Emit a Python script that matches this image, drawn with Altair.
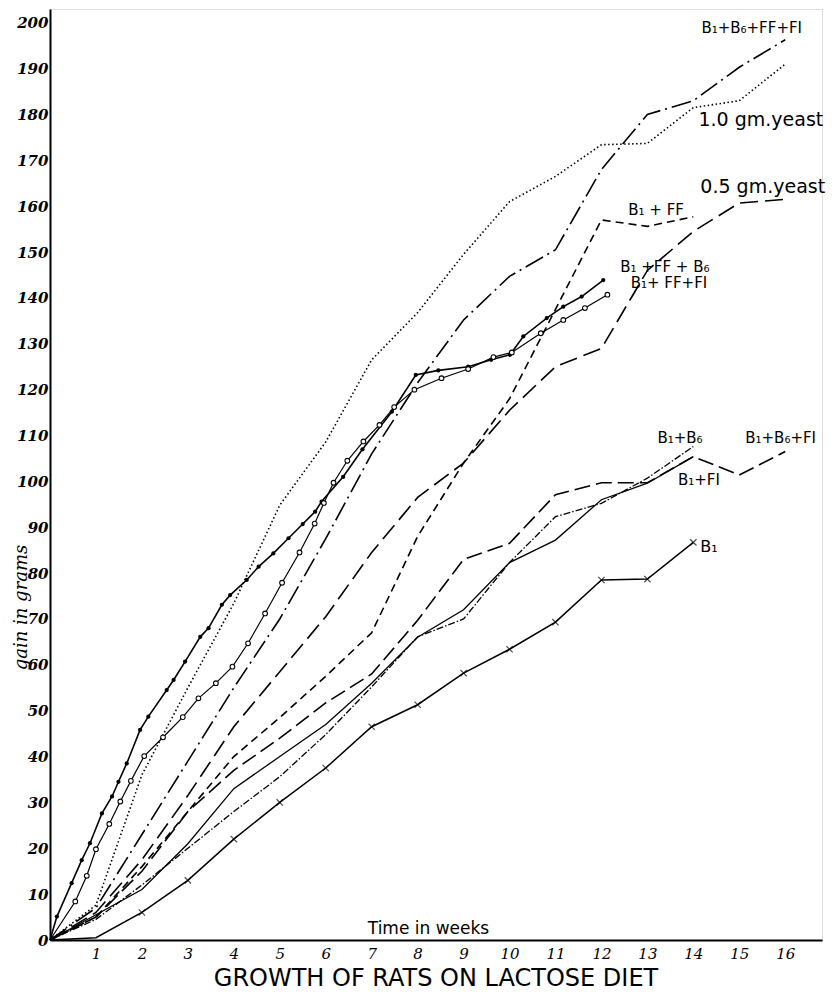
import altair as alt
import pandas as pd

# ---- data (weeks, gain in grams) ----
weeks14 = list(range(15))
weeks16 = list(range(17))

b1 = [0, 0.5, 6, 13, 22, 30, 37.5, 46.5, 51.3, 58.2, 63.4, 69.3, 78.5, 78.7, 86.7]
b1_fi = [0, 5.5, 11, 21, 33, 40, 47, 56, 66, 72, 82.3, 87.2, 96, 99.6, 105.4]
b1_b6 = [0, 4.5, 12, 20, 28, 35.6, 44.8, 55.2, 66.1, 70, 82.3, 92.3, 95.2, 100.7, 107.6]
b1_b6_fi = [0, 5, 15, 28, 37, 44, 51.7, 58, 69.7, 83, 86.5, 97.1, 99.7, 99.7, 105.4, 101.4, 106.5]
b1_ff = [0, 5, 16, 28, 40, 48.5, 57.5, 67, 88, 104, 118, 137.5, 157, 155.6, 157.7]
yeast05 = [0, 6, 17.5, 31.5, 46.5, 58.5, 70.5, 84.5, 96.5, 104, 115.5, 125, 129, 146, 154.5, 160.7, 161.5]
b1_b6_ff_fi = [0, 7, 23, 39, 55, 70, 87.5, 106, 121.5, 135.2, 144.7, 150.5, 168, 180, 183, 190.3, 196.3]
yeast10 = [0, 7.6, 36, 55, 73.4, 94.8, 108.6, 126.5, 136.8, 149.5, 161, 166.5, 173.4, 173.7, 181.5, 183, 191]

ff_b6_weeks = [0, 0.15, 0.47, 0.69, 0.87, 1.13, 1.35, 1.49, 1.67, 1.96, 2.14, 2.54, 2.69, 2.94,
               3.27, 3.45, 3.74, 3.92, 4.28, 4.54, 4.86, 5.19, 5.5, 5.77, 5.91, 6.38, 6.8, 7.44,
               7.96, 8.45, 9.1, 9.6, 10.01, 10.3, 10.81, 11.17, 11.57, 12.04]
ff_b6_vals = [0, 5.1, 12.4, 17.4, 21.1, 27.6, 31.3, 34.5, 38.5, 45.8, 48.7, 54.5, 56.7, 60.7,
              66.1, 68, 73.1, 75.2, 78.5, 81.4, 84.3, 87.6, 90.7, 93.4, 95.6, 101, 107, 115.2,
              123.2, 124.2, 125, 126.5, 127.6, 131.6, 135.6, 138.1, 140.3, 143.9]

ff_fi_weeks = [0, 0.55, 0.8, 1.0, 1.29, 1.53, 1.76, 2.05, 2.46, 2.89, 3.23, 3.61, 3.97, 4.31,
               4.68, 5.05, 5.43, 5.76, 5.96, 6.17, 6.47, 6.82, 7.17, 7.49, 7.93, 8.52, 9.1,
               9.65, 10.05, 10.68, 11.17, 11.64, 12.13]
ff_fi_vals = [0, 8.4, 14, 19.8, 25.3, 30.2, 34.7, 40.1, 44.2, 48.6, 52.7, 56, 59.6, 64.7,
              71.2, 77.9, 84.5, 90.8, 95.3, 99.7, 104.5, 108.7, 112.3, 116.2, 120, 122.5, 124.5,
              127.1, 128.1, 132.3, 135.2, 137.8, 140.7]

label_texts = ["B\u2081+B\u2086+FF+FI", "1.0 gm.yeast", "0.5 gm.yeast", "B\u2081 + FF",
               "B\u2081 +FF + B\u2086", "B\u2081+ FF+FI", "B\u2081+B\u2086", "B\u2081+FI",
               "B\u2081+B\u2086+FI", "B\u2081"]
label_weeks = [15.27, 15.47, 15.51, 13.19, 13.38, 13.47, 13.71, 14.12, 15.9, 14.34]
label_vals = [198.9, 178.8, 164.2, 159.2, 146.8, 143.3, 109.5, 100.3, 109.5, 85.7]
label_sizes = [15, 19, 19, 15, 15, 15, 15, 15, 15, 16]


def frame(weeks, vals):
    return pd.DataFrame({"week": weeks, "gain": vals})


x_enc = alt.X(
    "week:Q",
    scale=alt.Scale(domain=[0, 16.8], nice=False, zero=True),
    axis=alt.Axis(
        values=list(range(1, 17)), grid=False, ticks=False,
        domainColor="black", domainWidth=2,
        labelFont="DejaVu Serif", labelFontStyle="italic", labelFontSize=15,
        labelColor="black", labelPadding=6,
        title="Time in weeks", titleX=378, titleY=-12, titleAngle=0,
        titleAlign="center", titleBaseline="middle",
        titleFont="DejaVu Sans", titleFontSize=17, titleFontWeight="normal",
        titleColor="black",
    ),
)
y_enc = alt.Y(
    "gain:Q",
    scale=alt.Scale(domain=[0, 203], nice=False),
    axis=alt.Axis(
        values=list(range(0, 201, 10)), grid=False, ticks=False,
        domainColor="black", domainWidth=2,
        labelFont="DejaVu Serif", labelFontStyle="italic", labelFontWeight="bold",
        labelFontSize=15, labelColor="black", labelPadding=2,
        title="gain in grams", titleX=-29, titleY=598, titleAngle=-90,
        titleAlign="center", titleBaseline="middle",
        titleFont="DejaVu Serif", titleFontStyle="italic", titleFontSize=18,
        titleFontWeight="normal", titleColor="black",
    ),
)


def line(df, dash=None, width=1.4):
    kw = dict(color="black", strokeWidth=width)
    if dash:
        kw["strokeDash"] = dash
    return alt.Chart(df).mark_line(**kw).encode(x=x_enc, y=y_enc)


df_b1 = frame(weeks14, b1)
df_ffb6 = frame(ff_b6_weeks, ff_b6_vals)
df_fffi = frame(ff_fi_weeks, ff_fi_vals)

layers = [
    line(df_b1, None, 1.5),
    alt.Chart(df_b1[df_b1.week > 1]).mark_point(
        shape="M-1,-1L1,1M-1,1L1,-1", size=40, color="black", strokeWidth=1.2, filled=False
    ).encode(x=x_enc, y=y_enc),
    line(frame(weeks14, b1_fi), None, 1.3),
    line(frame(weeks14, b1_b6), [7, 2, 1.5, 2], 1.3),
    line(frame(weeks16, b1_b6_fi), [16, 6], 1.6),
    line(frame(weeks14, b1_ff), [8, 5], 1.6),
    line(frame(weeks16, yeast05), [18, 7], 1.6),
    line(frame(weeks16, b1_b6_ff_fi), [20, 5, 2, 5], 1.6),
    line(frame(weeks16, yeast10), [1.5, 2.5], 1.6),
    line(df_ffb6, None, 1.6),
    alt.Chart(df_ffb6[df_ffb6.week > 0]).mark_point(
        shape="circle", size=18, color="black", filled=True, opacity=1
    ).encode(x=x_enc, y=y_enc),
    line(df_fffi, None, 1.2),
    alt.Chart(df_fffi[df_fffi.week > 0]).mark_point(
        shape="circle", size=22, color="black", fill="white", filled=False,
        strokeWidth=1.1, opacity=1, fillOpacity=1
    ).encode(x=x_enc, y=y_enc),
]

labels_df = pd.DataFrame({"week": label_weeks, "gain": label_vals,
                          "text": label_texts, "size": label_sizes})
labels = alt.Chart(labels_df).mark_text(
    font="DejaVu Sans", color="black", align="center", baseline="middle"
).encode(
    x=x_enc, y=y_enc, text="text:N",
    size=alt.Size("size:Q", scale=None, legend=None),
)
layers.append(labels)

chart = alt.layer(*layers).properties(
    width=772,
    height=931,
    padding={"left": 42, "top": 1, "right": 8, "bottom": 55},
    autosize=alt.AutoSizeParams(type="none"),
    title=alt.TitleParams(
        "GROWTH OF RATS ON LACTOSE DIET", orient="bottom", anchor="middle",
        fontSize=24, font="DejaVu Sans", fontWeight="normal", color="black", offset=6,
    ),
).configure_view(stroke=None).configure(background="white")

chart.save("out.html", embed_options={"renderer": "svg", "actions": False})
